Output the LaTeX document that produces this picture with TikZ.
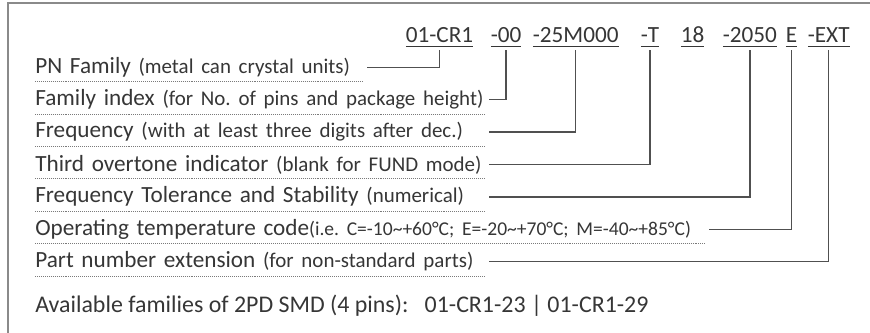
\documentclass[tikz,border=0pt]{standalone}
\usepackage{fontspec}
\setmainfont{Carlito}
\frenchspacing
\definecolor{inktext}{HTML}{363636}
\definecolor{framegray}{HTML}{8A8A8A}
\definecolor{conngray}{HTML}{505050}
\definecolor{dotgray}{HTML}{7A7A7A}
\newcommand{\mainsz}{\fontsize{16.5}{19}\selectfont}
\newcommand{\remsz}{\fontsize{14.9}{18}\selectfont}
\newcommand{\tinysz}{\fontsize{13.9}{16}\selectfont}
\newcommand{\ulpart}[1]{\setbox0\hbox{#1}\rlap{\vrule height -2.0pt depth 3.0pt width \wd0}\box0}
\tikzset{
  pnpart/.style={anchor=base west,inner sep=0pt,outer sep=2pt,text=inktext,font=\mainsz},
  field/.style={anchor=south west,inner sep=0pt,minimum height=0.7cm,text=inktext,font=\mainsz,align=left},
  connline/.style={conngray,line width=1pt},
  dotline/.style={dotgray,line width=0.5pt,dash pattern=on 0.6pt off 0.8pt}
}
\begin{document}
\begin{tikzpicture}[x=0.025cm,y=-0.025cm]
\useasboundingbox (0,0) rectangle (870,333);
\draw[framegray,line width=1.5pt] (8,340) -- (8,3) -- (880,3);
\node[pnpart] (cr)  at (403,43) {\ulpart{01-CR1}};
\node[pnpart] (idx) at (488,43) {\ulpart{-00}};
\node[pnpart] (frq) at (530,43) {\ulpart{-25M000}};
\node[pnpart] (ovt) at (638,43) {\ulpart{-T}};
\node[pnpart] (ld)  at (678,43) {\ulpart{18}};
\node[pnpart] (tol) at (720,43) {\ulpart{-2050}};
\node[pnpart] (tmp) at (783,43) {\ulpart{E}};
\node[pnpart] (ext) at (805,43) {\ulpart{-EXT}};
\node[field,text width=8.2cm] (famlbl) at (35,81.5) {\mbox{PN Family {\remsz(metal can crystal units)}}};
\node[field,text width=11.25cm] (idxlbl) at (35,113.9) {\mbox{Family index {\remsz(for No. of pins and package height)}}};
\node[field,text width=11.25cm] (frqlbl) at (35,146.3) {\mbox{Frequency {\remsz(with at least three digits after dec.)}}};
\node[field,text width=11.25cm] (ovtlbl) at (35,178.7) {\mbox{Third overtone indicator {\remsz(blank for FUND mode)}}};
\node[field,text width=11.25cm] (tollbl) at (35,211.1) {\mbox{Frequency Tolerance and Stability {\remsz(numerical)}}};
\node[field,text width=16.75cm] (tmplbl) at (35,243.5) {\mbox{Operating temperature code{\tinysz(i.e. C=-10\textasciitilde+60°C; E=-20\textasciitilde+70°C; M=-40\textasciitilde+85°C)}}};
\node[field,text width=11.25cm] (extlbl) at (35,275.9) {\mbox{Part number extension {\remsz(for non-standard parts)}}};
\foreach \f in {famlbl,idxlbl,frqlbl,ovtlbl,tollbl,tmplbl,extlbl}
{   \draw[dotline] (\f.south west) -- (\f.south east);
}
\foreach \p/\f in {cr/famlbl,idx/idxlbl,frq/frqlbl,ovt/ovtlbl,tol/tollbl,tmp/tmplbl,ext/extlbl}
{   \draw[connline] (\p.south) |- ([xshift=0.08cm]\f.east);
}
\node[anchor=base west,inner sep=0pt,text=inktext,font=\fontsize{17}{20}\selectfont] (avail) at (35,313) {Available families of 2PD SMD (4 pins):\ \ \ 01-CR1-23 | 01-CR1-29};
\end{tikzpicture}
\end{document}
